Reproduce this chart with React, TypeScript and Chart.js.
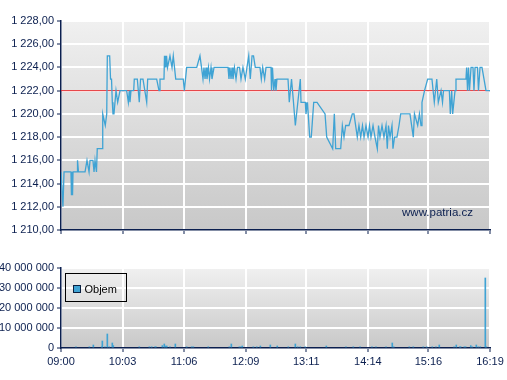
import React, { useEffect, useRef } from "react";
import { Chart, registerables } from "chart.js";

Chart.register(...registerables);

// ---------- data ----------
const xTickLabels = ["09:00", "10:03", "11:06", "12:09", "13:11", "14:14", "15:16", "16:19"];
const priceMin = 1210;
const priceMax = 1228;
const priceStep = 2;
const referencePrice = 1222;
const volumeMax = 40000000;
const volumeStep = 10000000;
const volumeLabel = "Objem";
const watermark = "www.patria.cz";

// [minutes after 09:00, price]
const trades: [number, number][] = [
  [0, 1215], [2.0, 1212], [3.1, 1215], [10.2, 1215], [10.7, 1213], [11.3, 1215], [11.8, 1213], [12.3, 1215],
  [16.4, 1215], [16.9, 1216], [17.9, 1215], [24.6, 1215], [26.6, 1216], [28.7, 1215], [29.7, 1216], [32.7, 1216],
  [33.8, 1215], [34.8, 1216], [36.3, 1215], [37.1, 1217], [42.3, 1217], [42.7, 1220], [45.3, 1219], [46.8, 1220],
  [47.4, 1225], [49.8, 1225], [50.7, 1223], [51.7, 1223], [52.5, 1221], [53.2, 1220], [54.2, 1220], [56.3, 1222],
  [58.0, 1221], [60.4, 1222], [67.2, 1222], [68.9, 1221], [69.9, 1222], [70.6, 1221], [71.6, 1222], [74.4, 1222],
  [75.0, 1223], [78.1, 1223], [80.1, 1221], [81.4, 1223], [83.9, 1223], [87.7, 1221], [88.7, 1223], [97.9, 1223],
  [100.3, 1222], [101.3, 1223], [105.4, 1223], [105.9, 1225], [106.4, 1224], [106.9, 1225], [107.4, 1224], [108.0, 1225],
  [109.0, 1224], [111.5, 1225], [113.6, 1224], [114.9, 1225], [117.4, 1223], [125.1, 1223], [126.2, 1222], [128.6, 1224],
  [138.9, 1224], [142.2, 1225], [143.8, 1224], [145.3, 1223], [146.3, 1224], [147.4, 1223], [148.4, 1224], [149.4, 1223],
  [150.9, 1224], [152.0, 1223], [153.5, 1224], [154.5, 1223], [156.6, 1224], [170.9, 1224], [171.9, 1223], [172.9, 1224],
  [174.0, 1223], [175.0, 1224], [176.0, 1223], [177.5, 1224], [179.1, 1223], [180.6, 1224], [182.7, 1224], [184.2, 1223],
  [186.2, 1224], [188.6, 1223], [190.3, 1224], [192.1, 1225], [193.7, 1223], [195.5, 1225], [197.0, 1225], [198.8, 1224],
  [203.6, 1224], [205.0, 1223], [206.4, 1224], [208.4, 1223], [209.8, 1224], [214.9, 1224], [215.4, 1222], [216.4, 1224],
  [217.7, 1222], [219.0, 1223], [220.0, 1222], [221.0, 1223], [232.3, 1223], [233.6, 1221], [235.9, 1223], [237.9, 1221],
  [239.8, 1219], [244.9, 1223], [245.6, 1221], [250.0, 1221], [250.7, 1220], [252.2, 1221], [254.5, 1218], [256.1, 1218],
  [258.6, 1221], [262.0, 1221], [270.2, 1220], [271.9, 1218], [278.0, 1217], [279.7, 1220], [281.1, 1217], [286.2, 1217],
  [287.9, 1219], [289.6, 1218], [291.3, 1219], [294.7, 1219], [298.1, 1220], [299.8, 1220], [303.2, 1218], [304.9, 1219],
  [306.7, 1218], [308.5, 1219], [310.1, 1218], [312.1, 1219], [314.2, 1218], [315.7, 1219], [317.2, 1218], [319.3, 1219],
  [321.3, 1218], [323.7, 1217], [324.9, 1219], [326.4, 1218], [328.5, 1219], [330.5, 1218], [332.6, 1219], [333.9, 1217],
  [335.1, 1219], [336.7, 1218], [338.7, 1219], [339.7, 1217], [341.3, 1218], [343.8, 1218], [345.9, 1219], [347.6, 1220],
  [357.1, 1220], [360.5, 1218], [361.7, 1220], [365.0, 1219], [366.8, 1220], [368.4, 1219], [369.4, 1221], [372.0, 1222],
  [375.2, 1223], [379.6, 1223], [382.0, 1221], [384.5, 1223], [386.1, 1221], [388.9, 1222], [390.4, 1221], [391.4, 1222],
  [397.4, 1222], [398.4, 1220], [399.8, 1222], [400.8, 1220], [403.2, 1222], [404.2, 1223], [414.4, 1223], [415.1, 1224],
  [416.0, 1222], [417.0, 1224], [418.0, 1222], [419.6, 1224], [421.6, 1224], [422.6, 1222], [423.7, 1224], [426.2, 1224],
  [427.2, 1222], [428.8, 1224], [430.8, 1224], [434.9, 1222], [439.0, 1222],
];

// [minutes after 09:00, volume in millions]
const volumeBars: [number, number][] = [
  [15.3, 0.6], [29.0, 0.6], [33.1, 1.5], [41.6, 0.6], [42.3, 3.5], [45.0, 0.6], [47.4, 7], [49.4, 0.6],
  [52.5, 2.5], [53.5, 1.2], [80.1, 0.6], [90.4, 0.6], [92.8, 0.6], [96.2, 0.6], [97.2, 0.6], [103.7, 1.2],
  [105.7, 2], [106.9, 1], [108.2, 1], [111.5, 0.6], [117.0, 2], [128.6, 0.6], [133.7, 0.6], [135.4, 0.6],
  [150.7, 0.6], [172.2, 0.6], [174.3, 2], [182.5, 0.6], [184.2, 0.6], [185.5, 1], [196.8, 0.6], [200.3, 0.6],
  [204.0, 1], [214.2, 1.5], [221.3, 1], [232.6, 0.6], [239.8, 2], [242.2, 0.6], [244.9, 0.6], [250.0, 0.6],
  [271.5, 1], [291.6, 0.6], [299.1, 0.6], [306.0, 0.6], [318.2, 0.6], [322.3, 0.6], [332.6, 0.6], [339.0, 2.5],
  [340.5, 0.6], [356.4, 0.6], [360.5, 0.6], [370.7, 0.6], [374.2, 0.6], [379.9, 0.6], [383.7, 0.6], [387.1, 1.5],
  [402.2, 0.6], [404.5, 1.5], [408.0, 0.6], [409.0, 0.6], [412.7, 0.6], [414.1, 0.6], [419.3, 1.2], [420.9, 0.6],
  [425.0, 1.5], [427.0, 0.6], [429.1, 0.6], [434.2, 35], [435.3, 0.6],
];

// ---------- helpers / styles ----------
const NAVY = "#0b1f4f";
const LINE_BLUE = "#3fa3d4";
const FONT = "'Liberation Sans', Arial, sans-serif";

const toMin = (s: string) => {
  const [h, m] = s.split(":").map(Number);
  return h * 60 + m;
};
const startMin = toMin(xTickLabels[0]);
const tickMinutes = xTickLabels.map((l) => toMin(l) - startMin);
const xMax = tickMinutes[tickMinutes.length - 1];

function fmt(v: number, d: number) {
  const s = v.toFixed(d);
  const [i, f] = s.split(".");
  const ii = i.replace(/\B(?=(\d{3})+(?!\d))/g, " ");
  return f ? ii + "," + f : ii;
}

const bgPlugin = {
  id: "bgGrad",
  beforeDraw(chart: any) {
    const { ctx, chartArea: a } = chart;
    const g = ctx.createLinearGradient(0, a.top, 0, a.bottom);
    g.addColorStop(0, "#f0f0f0");
    g.addColorStop(1, "#c8c8c8");
    ctx.save();
    ctx.fillStyle = g;
    ctx.fillRect(a.left, a.top, a.right - a.left, a.bottom - a.top);
    ctx.restore();
  },
};

const watermarkPlugin = {
  id: "watermark",
  afterDraw(chart: any) {
    const { ctx, chartArea: a } = chart;
    ctx.save();
    ctx.font = `11.5px ${FONT}`;
    ctx.fillStyle = NAVY;
    ctx.textAlign = "right";
    ctx.textBaseline = "alphabetic";
    ctx.fillText(watermark, a.right - 17, a.bottom - 14);
    ctx.restore();
  },
};

const legendPlugin = {
  id: "boxLegend",
  afterDraw(chart: any) {
    const { ctx, chartArea: a } = chart;
    const x = a.left + 4.5;
    const y = a.top + 5.5;
    ctx.save();
    ctx.strokeStyle = "#000000";
    ctx.lineWidth = 1;
    ctx.strokeRect(x, y, 61, 28);
    ctx.fillStyle = LINE_BLUE;
    ctx.fillRect(x + 8, y + 12, 7, 7);
    ctx.strokeStyle = "#0b1f3f";
    ctx.strokeRect(x + 8, y + 12, 7, 7);
    ctx.fillStyle = "#000000";
    ctx.font = `11px ${FONT}`;
    ctx.textBaseline = "middle";
    ctx.fillText(chart.data.datasets[0].label, x + 19, y + 16);
    ctx.restore();
  },
};

function xScale(showLabels: boolean, height: number) {
  return {
    type: "linear",
    min: 0,
    max: xMax,
    offset: false,
    afterBuildTicks: (s: any) => {
      s.ticks = tickMinutes.map((v) => ({ value: v }));
    },
    afterFit: (s: any) => {
      s.height = height;
    },
    ticks: {
      autoSkip: false,
      maxRotation: 0,
      color: NAVY,
      font: { family: FONT, size: 11 },
      padding: 3,
      callback: (_v: any, i: number) => (showLabels ? xTickLabels[i] : ""),
    },
    grid: { color: "#ffffff", lineWidth: 2, tickColor: NAVY, tickLength: 4, tickWidth: 1, offset: false },
    border: { color: NAVY, width: 1.5 },
  };
}

export default function App() {
  const topRef = useRef<HTMLCanvasElement>(null);
  const botRef = useRef<HTMLCanvasElement>(null);

  useEffect(() => {
    const top = new Chart(topRef.current!, {
      type: "line",
      data: {
        datasets: [
          {
            data: trades.map(([m, p]) => ({ x: m, y: p })),
            borderColor: LINE_BLUE,
            borderWidth: 1.3,
            pointRadius: 0,
            tension: 0,
          },
          {
            data: [
              { x: 0, y: referencePrice },
              { x: xMax, y: referencePrice },
            ],
            borderColor: "#e3262a",
            borderWidth: 1,
            pointRadius: 0,
          },
        ],
      },
      options: {
        animation: false,
        responsive: false,
        events: [],
        layout: { padding: { top: 21, right: 17, left: 0, bottom: 0 } },
        plugins: { legend: { display: false }, tooltip: { enabled: false } },
        scales: {
          x: xScale(false, 15) as any,
          y: {
            min: priceMin,
            max: priceMax,
            afterFit: (s: any) => {
              s.width = 61;
            },
            ticks: {
              stepSize: priceStep,
              color: NAVY,
              font: { family: FONT, size: 11 },
              padding: 3,
              callback: (v: any) => fmt(Number(v), 2),
            },
            grid: { color: "#ffffff", lineWidth: 2, tickColor: NAVY, tickLength: 4, tickWidth: 1 },
            border: { color: NAVY, width: 1.5 },
          },
        },
      },
      plugins: [bgPlugin, watermarkPlugin],
    });

    const bot = new Chart(botRef.current!, {
      type: "bar",
      data: {
        datasets: [
          {
            label: volumeLabel,
            data: volumeBars.map(([m, v]) => ({ x: m, y: v * 1000000 })),
            backgroundColor: LINE_BLUE,
            barThickness: 1,
          },
        ],
      },
      options: {
        animation: false,
        responsive: false,
        events: [],
        layout: { padding: { top: 23, right: 17, left: 0, bottom: 0 } },
        plugins: { legend: { display: false }, tooltip: { enabled: false } },
        scales: {
          x: xScale(true, 32) as any,
          y: {
            min: 0,
            max: volumeMax,
            afterFit: (s: any) => {
              s.width = 61;
            },
            ticks: {
              stepSize: volumeStep,
              color: NAVY,
              font: { family: FONT, size: 11 },
              padding: 3,
              callback: (v: any) => fmt(Number(v), 0),
            },
            grid: { color: "#ffffff", lineWidth: 2, tickColor: NAVY, tickLength: 4, tickWidth: 1 },
            border: { color: NAVY, width: 1.5 },
          },
        },
      },
      plugins: [bgPlugin, legendPlugin],
    });

    return () => {
      top.destroy();
      bot.destroy();
    };
  }, []);

  return (
    <div style={{ position: "absolute", left: 0, top: 0, width: 507, height: 380, background: "#ffffff" }}>
      <canvas ref={topRef} width={507} height={245} style={{ position: "absolute", left: 0, top: 0 }} />
      <canvas ref={botRef} width={507} height={135} style={{ position: "absolute", left: 0, top: 245 }} />
    </div>
  );
}
